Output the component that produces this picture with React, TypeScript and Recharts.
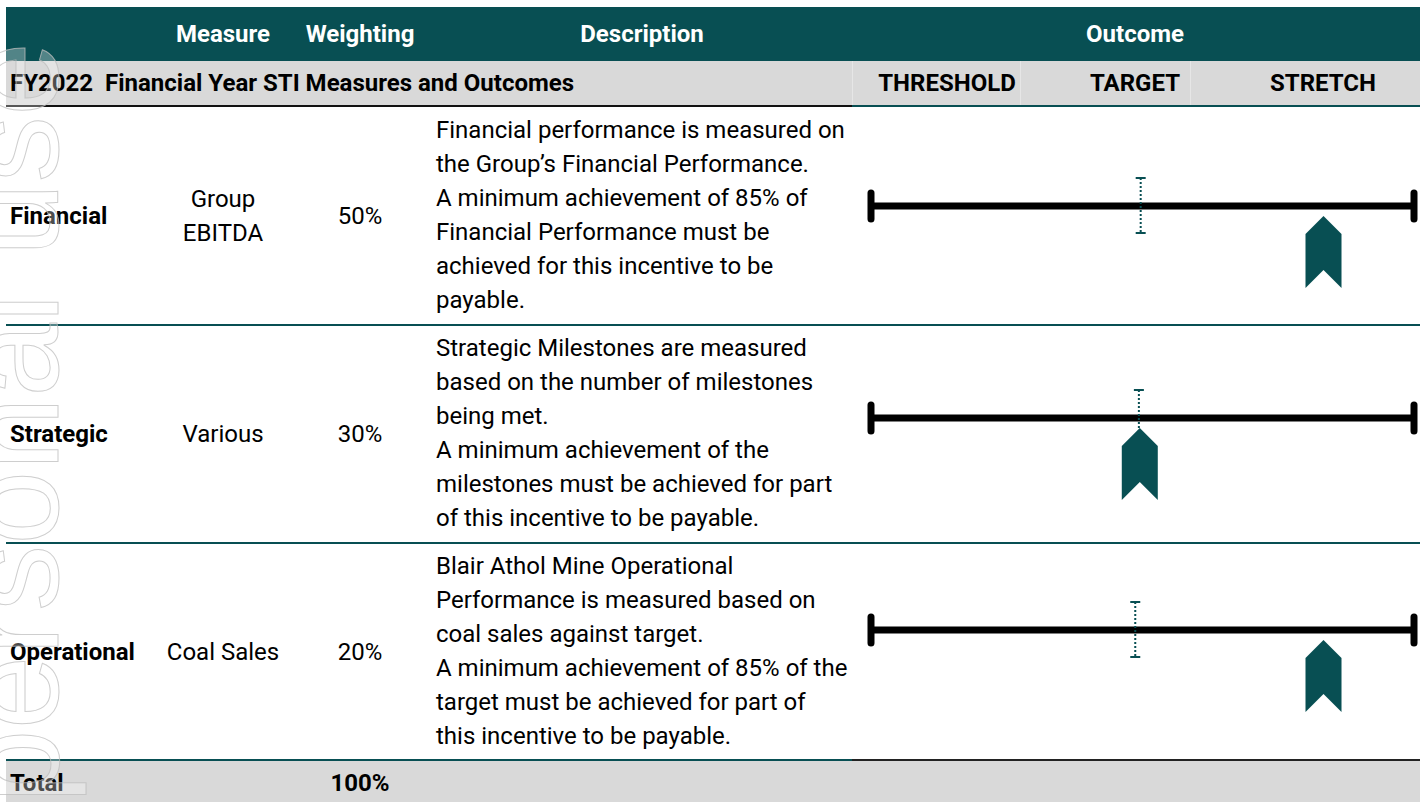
import React from 'react';
import { ScatterChart, Scatter, XAxis, YAxis } from 'recharts';

const TEAL = '#084F53';
const GRAY = '#D9D9D9';

const columnHeaders = ['Measure', 'Weighting', 'Description', 'Outcome'];
const sectionTitle = 'FY2022  Financial Year STI Measures and Outcomes';
const outcomeHeaders = ['THRESHOLD', 'TARGET', 'STRETCH'];
const categories = ['Financial', 'Strategic', 'Operational'];
const measures = [['Group', 'EBITDA'], ['Various'], ['Coal Sales']];
const weightings = ['50%', '30%', '20%'];
const descriptions = [
  [
    'Financial performance is measured on',
    'the Group’s Financial Performance.',
    'A minimum achievement of 85% of',
    'Financial Performance must be',
    'achieved for this incentive to be',
    'payable.',
  ],
  [
    'Strategic Milestones are measured',
    'based on the number of milestones',
    'being met.',
    'A minimum achievement of the',
    'milestones must be achieved for part',
    'of this incentive to be payable.',
  ],
  [
    'Blair Athol Mine Operational',
    'Performance is measured based on',
    'coal sales against target.',
    'A minimum achievement of 85% of the',
    'target must be achieved for part of',
    'this incentive to be payable.',
  ],
];
const totalLabel = 'Total';
const totalWeighting = '100%';
const thresholdValues = [85, 85, 85];
const targetValues = [99.9, 99.8, 99.6];
const stretchValues = [115, 115, 115];
const outcomeValues = [110, 99.85, 110];
const watermarkText = 'For personal use only';

const FONT = 'Roboto, "Noto Sans", sans-serif';

const rowCenters = [216, 434, 652];
const descTops = [113, 331, 549];

type TProps = {
  x: number;
  y: number;
  text: string;
  anchor?: 'start' | 'middle';
  bold?: boolean;
  color?: string;
  size?: number;
};

const T = ({ x, y, text, anchor = 'start', bold = false, color = '#000', size = 24 }: TProps) => (
  <div
    style={{
      position: 'absolute',
      left: x,
      top: y - 17,
      height: 34,
      lineHeight: '34px',
      fontSize: size,
      fontWeight: bold ? 700 : 400,
      color,
      whiteSpace: 'pre',
      transform: anchor === 'middle' ? 'translateX(-50%)' : undefined,
    }}
  >
    {text}
  </div>
);

const Box = ({ x, y, w, h, c, o = 1 }: { x: number; y: number; w: number; h: number; c: string; o?: number }) => (
  <div style={{ position: 'absolute', left: x, top: y, width: w, height: h, background: c, opacity: o }} />
);

const Cap = (props: any) => {
  const { cx, cy } = props;
  return (
    <line x1={cx} x2={cx} y1={cy - 13} y2={cy + 13} stroke="#000" strokeWidth={7} strokeLinecap="round" />
  );
};

const TargetTick = (props: any) => {
  const { cx, cy } = props;
  return (
    <g>
      <line x1={cx} x2={cx} y1={cy - 28} y2={cy + 27} stroke={TEAL} strokeWidth={2} strokeDasharray="2 2" />
      <line x1={cx - 5} x2={cx + 5} y1={cy - 28} y2={cy - 28} stroke={TEAL} strokeWidth={2} />
      <line x1={cx - 5} x2={cx + 5} y1={cy + 27} y2={cy + 27} stroke={TEAL} strokeWidth={2} />
    </g>
  );
};

const Chevron = (props: any) => {
  const { cx, cy } = props;
  const d = `M ${cx} ${cy + 10} L ${cx + 18} ${cy + 28} L ${cx + 18} ${cy + 82} L ${cx} ${cy + 64} L ${cx - 18} ${cy + 82} L ${cx - 18} ${cy + 28} Z`;
  return <path d={d} fill={TEAL} />;
};

export default function App() {
  const targetData = categories.map((c, i) => ({ x: targetValues[i], y: i + 1 }));
  const outcomeData = categories.map((c, i) => ({ x: outcomeValues[i], y: i + 1 }));
  const headerX = [223, 360, 642, 1135];
  const outcomeX = [947, 1135, 1323];

  return (
    <div
      style={{
        position: 'absolute',
        left: 0,
        top: 0,
        width: 1424,
        height: 802,
        overflow: 'hidden',
        background: '#fff',
        fontFamily: FONT,
      }}
    >
      {/* backgrounds */}
      <Box x={6} y={7} w={1414} h={54} c={TEAL} />
      <Box x={6} y={61} w={1414} h={44} c={GRAY} />
      <Box x={852} y={61} w={1} h={44} c="#fff" o={0.35} />
      <Box x={1020} y={61} w={1} h={44} c="#fff" o={0.35} />
      <Box x={1190} y={61} w={1} h={44} c="#fff" o={0.35} />
      <Box x={6} y={105} w={846} h={2} c="#111" />
      <Box x={852} y={105} w={568} h={2} c={TEAL} />
      <Box x={6} y={324} w={1414} h={2} c={TEAL} />
      <Box x={6} y={542} w={1414} h={2} c={TEAL} />
      <Box x={6} y={761} w={1414} h={41} c={GRAY} />
      <Box x={6} y={759} w={846} h={2} c={TEAL} />
      <Box x={852} y={759} w={568} h={2} c="#222" />

      {/* header texts */}
      {columnHeaders.map((h, i) => (
        <T key={h} x={headerX[i]} y={34} text={h} anchor="middle" bold color="#fff" />
      ))}
      <T x={10} y={83} text={sectionTitle} bold />
      {outcomeHeaders.map((h, i) => (
        <T key={h} x={outcomeX[i]} y={83} text={h} anchor="middle" bold />
      ))}

      {/* rows */}
      {categories.map((c, i) => (
        <React.Fragment key={c}>
          <T x={10} y={rowCenters[i]} text={c} bold />
          {measures[i].map((m, j) => (
            <T
              key={m}
              x={223}
              y={rowCenters[i] + (j - (measures[i].length - 1) / 2) * 34}
              text={m}
              anchor="middle"
            />
          ))}
          <T x={360} y={rowCenters[i]} text={weightings[i]} anchor="middle" />
          {descriptions[i].map((line, j) => (
            <T key={j} x={436} y={descTops[i] + 17 + j * 34} text={line} />
          ))}
        </React.Fragment>
      ))}
      <T x={10} y={783} text={totalLabel} bold />
      <T x={360} y={783} text={totalWeighting} anchor="middle" bold />

      {/* outcome chart */}
      <div style={{ position: 'absolute', left: 852, top: 96 }}>
        <ScatterChart width={568} height={650} margin={{ top: 4, right: 6, bottom: 10, left: 19 }}>
          <XAxis type="number" dataKey="x" domain={[85, 115]} hide />
          <YAxis type="number" dataKey="y" domain={[0.5, 3.5]} reversed hide />
          {categories.map((c, i) => (
            <Scatter
              key={c}
              data={[
                { x: thresholdValues[i], y: i + 1 },
                { x: stretchValues[i], y: i + 1 },
              ]}
              line={{ stroke: '#000', strokeWidth: 7 }}
              shape={Cap}
              isAnimationActive={false}
            />
          ))}
          <Scatter data={targetData} shape={TargetTick} isAnimationActive={false} />
          <Scatter data={outcomeData} shape={Chevron} isAnimationActive={false} />
        </ScatterChart>
      </div>

      {/* watermark */}
      <svg
        width={1424}
        height={802}
        style={{ position: 'absolute', left: 0, top: 0, pointerEvents: 'none' }}
      >
        <text
          x={0}
          y={0}
          transform="translate(58, 1040) rotate(-90)"
          fontFamily='"Liberation Sans", Arial, sans-serif'
          fontSize={133}
          fill="rgba(255,255,255,0.3)"
          stroke="rgba(190,190,190,0.75)"
          strokeWidth={1}
        >
          {watermarkText}
        </text>
      </svg>
    </div>
  );
}
